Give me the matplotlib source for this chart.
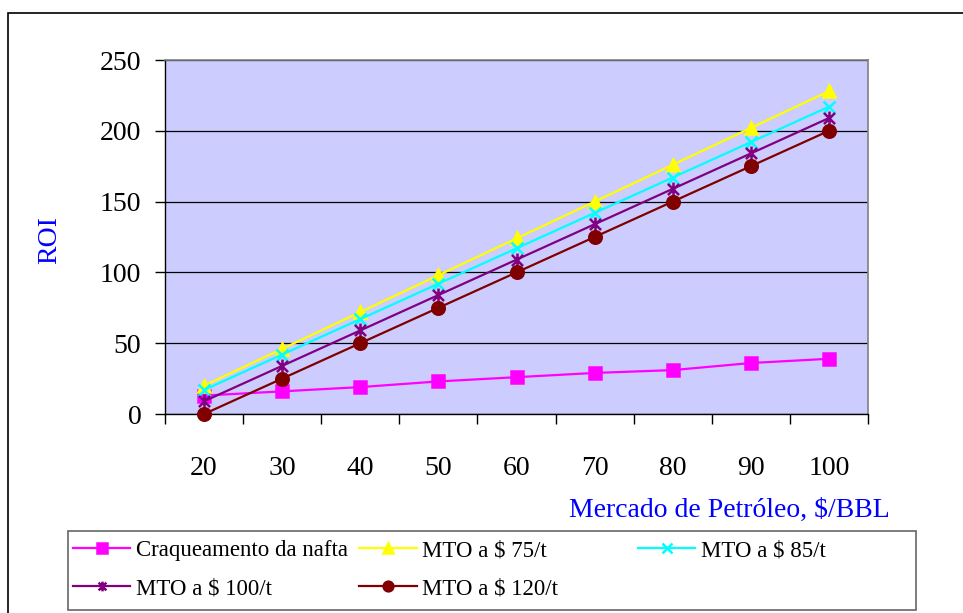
import numpy as np
import matplotlib.pyplot as plt
from matplotlib.path import Path
from matplotlib.patches import Rectangle

plt.rcParams['font.family'] = ['Liberation Serif', 'DejaVu Serif']

categorias = [20, 30, 40, 50, 60, 70, 80, 90, 100]
nafta = [13, 16, 19, 23, 26, 29, 31, 36, 39]
mto_75 = [20, 46, 72, 98, 124, 150, 176, 202, 228]
mto_85 = [17, 42, 67, 92, 117, 142, 167, 192, 217]
mto_100 = [9, 34, 59, 84, 109, 134, 159, 184, 209]
mto_120 = [0, 25, 50, 75, 100, 125, 150, 175, 200]

rotulos = ['Craqueamento da nafta', 'MTO a $ 75/t', 'MTO a $ 85/t',
           'MTO a $ 100/t', 'MTO a $ 120/t']

W, H = 963, 613

# estrela estilo Excel: X com barra vertical
estrela = Path([(-1, -1), (1, 1), (-1, 1), (1, -1), (0, -1.25), (0, 1.25)],
               [Path.MOVETO, Path.LINETO, Path.MOVETO, Path.LINETO,
                Path.MOVETO, Path.LINETO])

fig = plt.figure(figsize=(W / 100, H / 100), dpi=100)
ax = fig.add_axes([165 / W, 1 - 414 / H, 703 / W, 354 / H])
ax.set_facecolor('#CCCCFF')

x = np.arange(len(categorias)) + 0.5
estilos = [
    (nafta, '#FF00FF', 's', 8),
    (mto_75, '#FFFF00', '^', 9),
    (mto_85, '#00FFFF', 'x', 9),
    (mto_100, '#800080', estrela, 10),
    (mto_120, '#800000', 'o', 9),
]
linhas = []
for (serie, cor, mk, ms), rot in zip(estilos, rotulos):
    l, = ax.plot(x, serie, color=cor, lw=1.6, marker=mk, markersize=ms,
                 markerfacecolor=cor, markeredgecolor=cor, markeredgewidth=1.8,
                 label=rot, clip_on=False, zorder=3)
    linhas.append(l)

ax.set_xlim(0, len(categorias))
ax.set_ylim(0, 250)
ax.set_yticks(np.arange(0, 251, 50))
ax.set_xticks(np.arange(0, len(categorias) + 1))
ax.set_xticklabels([])
ax.set_xticks(x, minor=True)
ax.set_xticklabels([str(c) for c in categorias], minor=True)
ax.tick_params(axis='x', which='minor', length=0, pad=30, labelsize=20)
ax.tick_params(axis='x', which='major', length=7, width=1, direction='out')
ax.tick_params(axis='y', length=7, width=1, pad=10, labelsize=20)
ax.yaxis.grid(True, color='black', lw=0.9)
ax.set_axisbelow(True)
for s in ['top', 'right']:
    ax.spines[s].set_color('#808080')
    ax.spines[s].set_linewidth(1.2)
for s in ['left', 'bottom']:
    ax.spines[s].set_color('black')
    ax.spines[s].set_linewidth(1)

fig.text(50 / W, 1 - 240 / H, 'ROI', color='blue', fontsize=20,
         rotation=90, ha='center', va='center')
fig.text(890 / W, 1 - 517 / H, 'Mercado de Petróleo, $/BBL', color='blue',
         fontsize=20, ha='right', va='baseline')

# moldura externa (só as bordas superior e esquerda ficam visíveis)
fig.patches.append(Rectangle((8 / W, -0.1), 1.2, 1.1 - 13 / H,
                             transform=fig.transFigure, fill=False,
                             edgecolor='black', lw=1.2))
# caixa da legenda
fig.patches.append(Rectangle((68 / W, 1 - 610 / H), 848 / W, 79 / H,
                             transform=fig.transFigure, fill=False,
                             edgecolor='#666666', lw=1.2))

comum = dict(frameon=False, fontsize=16.5, handlelength=2.5,
             handletextpad=0.25, labelspacing=0.75, borderaxespad=0,
             borderpad=0, loc='upper left')
leg1 = fig.legend([linhas[0], linhas[3], linhas[1], linhas[4]],
                  [rotulos[0], rotulos[3], rotulos[1], rotulos[4]],
                  ncol=2, columnspacing=0.5,
                  bbox_to_anchor=(73 / W, 1 - 540 / H), **comum)
leg2 = fig.legend([linhas[2]], [rotulos[2]],
                  bbox_to_anchor=(638 / W, 1 - 540 / H), **comum)
for leg in (leg1, leg2):
    for h in leg.legend_handles:
        h.set_markersize(7)

fig.savefig('out.png', dpi=100)
